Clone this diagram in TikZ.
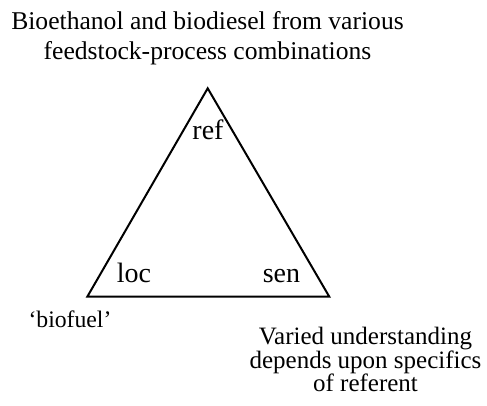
\documentclass[tikz,border=0pt]{standalone}
\usepackage{fontspec}
\setmainfont{Liberation Serif}
\begin{document}
\begin{tikzpicture}[x=1pt,y=-1pt,
  edge/.style={draw=black,line width=2pt,line join=miter},
  corner/.style={inner sep=0pt,anchor=base,font=\fontsize{28}{30}\selectfont},
  note/.style={inner sep=0pt,anchor=base,align=center}]
\useasboundingbox (0,0) rectangle (487,405);
% triangle vertices
\coordinate (apex) at (207.7,88.3);
\coordinate (left) at (87.3,296.7);
\coordinate (right) at (329.3,296.7);
\draw[edge] (apex) -- (left) -- (right) -- cycle;
% corner labels
\node[corner] (ref) at (208,139) {ref};
\node[corner] (loc) at (134,282) {loc};
\node[corner] (sen) at (281.5,282) {sen};
% descriptive texts (positioned by the baseline of their last line)
\node[note,font=\fontsize{25.6}{30}\selectfont] (top) at (207.5,59)
  {Bioethanol and biodiesel from various\\feedstock-process combinations};
\node[note,font=\fontsize{23.7}{23}\selectfont] (word) at (70,327) {`biofuel'};
\node[note,font=\fontsize{25}{23.3}\selectfont] (under) at (365.5,391.5)
  {Varied understanding\\depends upon specifics\\of referent};
\end{tikzpicture}
\end{document}
